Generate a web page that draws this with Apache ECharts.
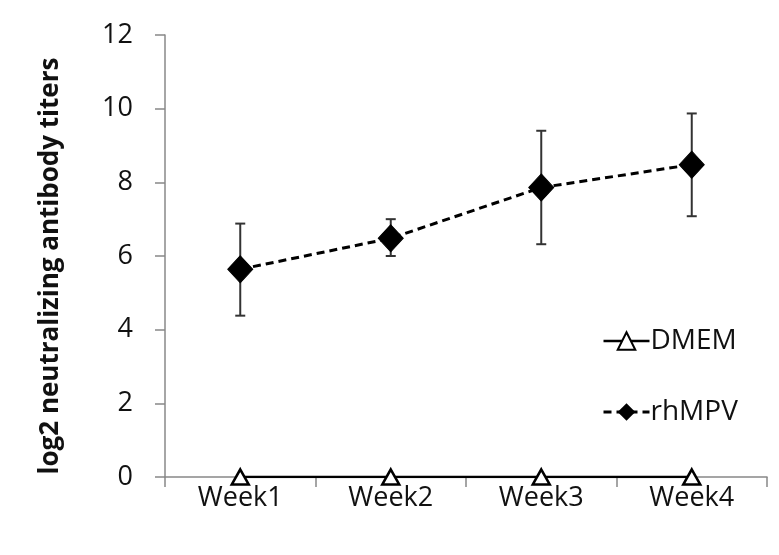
<!DOCTYPE html>
<html><head><meta charset="utf-8">
<script src="https://cdn.jsdelivr.net/npm/echarts@6/dist/echarts.min.js"></script>
<style>html,body{margin:0;padding:0;background:#fff}#c{width:779px;height:555px}</style>
</head><body><div id="c"></div>
<script>
const categories = ['Week1', 'Week2', 'Week3', 'Week4'];
const dmemValues = [0, 0, 0, 0];
const rhmpvValues = [5.64, 6.48, 7.86, 8.48];
const rhmpvLower = [4.38, 6.0, 6.32, 7.08];
const rhmpvUpper = [6.88, 7.0, 9.40, 9.87];
const yTicks = [0, 2, 4, 6, 8, 10, 12];

const errData = categories.map((c, i) => [i, rhmpvLower[i], rhmpvUpper[i]]);
const FONT = 'Open Sans';
const chart = echarts.init(document.getElementById('c'));
chart.setOption({
  animation: false,
  backgroundColor: '#fff',
  grid: { left: 165, right: 12, top: 35, bottom: 78 },
  legend: {
    orient: 'vertical', left: 597, top: 322, itemGap: 43,
    itemWidth: 46, itemHeight: 22,
    textStyle: { fontFamily: FONT, fontSize: 28, color: '#111', padding: [0, 0, 0, -4] },
    data: [
      { name: 'DMEM', lineStyle: { width: 2.5 } },
      { name: 'rhMPV', lineStyle: { width: 3 } }
    ]
  },
  xAxis: {
    type: 'category', data: categories, boundaryGap: true,
    axisLine: { lineStyle: { color: '#888', width: 1.5 } },
    axisTick: { show: true, length: 10, lineStyle: { color: '#888', width: 1.5 } },
    axisLabel: { fontFamily: FONT, fontSize: 27, color: '#111', margin: 8 }
  },
  yAxis: {
    type: 'value', min: 0, max: 12, interval: 2,
    name: 'log2 neutralizing antibody titers', nameLocation: 'middle', nameGap: 101,
    nameTextStyle: { fontFamily: FONT, fontSize: 26, fontWeight: 'bold', color: '#111', padding: [0, 20, 0, 0] },
    splitLine: { show: false },
    axisLine: { show: true, lineStyle: { color: '#888', width: 1.5 } },
    axisTick: { show: true, length: 10, lineStyle: { color: '#888', width: 1.5 } },
    axisLabel: { fontFamily: FONT, fontSize: 27, color: '#111', margin: 32,
      formatter: v => yTicks.includes(v) ? String(v) : '' }
  },
  series: [
    {
      name: 'DMEM', type: 'line', data: dmemValues, z: 4,
      symbol: 'triangle', symbolSize: [17, 15],
      lineStyle: { color: '#000', width: 2.5 },
      itemStyle: { color: '#fff', borderColor: '#000', borderWidth: 2.5 }
    },
    {
      type: 'custom', name: 'err', data: errData, z: 3, silent: true,
      renderItem: function (params, api) {
        const x = api.coord([api.value(0), 0])[0];
        const lo = api.coord([api.value(0), api.value(1)])[1];
        const hi = api.coord([api.value(0), api.value(2)])[1];
        const hw = 5;
        const st = { stroke: '#333', lineWidth: 2 };
        return { type: 'group', children: [
          { type: 'line', shape: { x1: x, y1: lo, x2: x, y2: hi }, style: st },
          { type: 'line', shape: { x1: x - hw, y1: lo, x2: x + hw, y2: lo }, style: st },
          { type: 'line', shape: { x1: x - hw, y1: hi, x2: x + hw, y2: hi }, style: st }
        ]};
      }
    },
    {
      name: 'rhMPV', type: 'line', data: rhmpvValues, z: 5,
      symbol: 'diamond', symbolSize: [25, 27],
      lineStyle: { color: '#000', width: 3, type: [8, 5] },
      itemStyle: { color: '#000', borderColor: '#000' }
    }
  ]
});
</script></body></html>
